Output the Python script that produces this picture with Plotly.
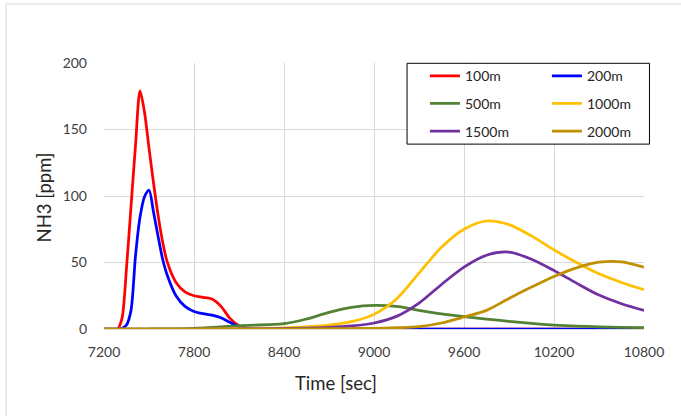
import plotly.graph_objects as go

# Early-arriving series (100 m, 200 m) sampled finely around the peak
t_near = [7200, 7290, 7320, 7350, 7380, 7410, 7440, 7470, 7500, 7530, 7560, 7590,
          7620, 7680, 7740, 7800, 7860, 7920, 7980, 8040, 8100, 8160, 8220, 8400,
          9000, 9600, 10200, 10800]
nh3_100m = [0, 0, 8, 46, 92, 138, 179, 163, 136, 110, 86, 66,
            51, 35, 28, 25, 23.8, 22.5, 17, 8, 2.5, 0.3, 0, 0,
            0, 0, 0, 0]
nh3_200m = [0, 0, 0.5, 3, 14, 55, 84, 99.5, 104.5, 88, 70, 53,
            41, 25, 17, 13.2, 11.5, 10.5, 8.5, 5, 2, 0.3, 0, 0,
            0, 0, 0, 0]

# Far-field series share a coarser time grid
t_far = [7200, 7500, 7800, 8100, 8400, 8550, 8700, 8850, 9000, 9150, 9300, 9450,
         9600, 9750, 9900, 10050, 10200, 10350, 10500, 10650, 10800]
nh3_500m = [0, 0, 0.5, 2.5, 4, 7.5, 12.5, 16.3, 17.8, 17, 14, 11.3,
            9.3, 7.5, 5.8, 4.2, 3, 2.2, 1.6, 1.2, 1.0]
nh3_1000m = [0, 0, 0, 0.2, 0.8, 1.6, 2.9, 5.5, 11, 22.5, 42, 61.5,
             75, 81.2, 78.5, 70, 59.5, 50, 41.5, 35, 29.5]
nh3_1500m = [0, 0, 0, 0, 0.3, 0.6, 1.2, 2.3, 4.5, 9.5, 19.5, 33.5,
             46.5, 55.5, 57.8, 52.5, 44, 34.5, 25.5, 19, 14]
nh3_2000m = [0, 0, 0, 0, 0, 0.1, 0.2, 0.3, 0.5, 1, 1.8, 4.5,
             9, 14, 23, 31.5, 39.5, 46, 50.2, 50.5, 46.5]

# (name, time, values, colour, legend row)
series = [
    ("100m", t_near, nh3_100m, "#FF0000", "legend"),
    ("200m", t_near, nh3_200m, "#0000FF", "legend"),
    ("500m", t_far, nh3_500m, "#548235", "legend2"),
    ("1000m", t_far, nh3_1000m, "#FFC000", "legend2"),
    ("1500m", t_far, nh3_1500m, "#7030A0", "legend3"),
    ("2000m", t_far, nh3_2000m, "#BF9000", "legend3"),
]

x_ticks = [7200, 7800, 8400, 9000, 9600, 10200, 10800]
y_ticks = [0, 50, 100, 150, 200]

FONT = "Lato"
GRID = "#D9D9D9"

fig = go.Figure()
for name, t, v, color, leg in series:
    fig.add_trace(go.Scatter(
        x=t, y=v, mode="lines", line_shape="spline",
        line=dict(color=color, width=2.75, smoothing=0.8),
        name=name, legend=leg,
    ))


def legend_row(y):
    # one two-entry row of the boxed key
    return dict(
        orientation="h", x=0.5943, xanchor="left", y=y, yanchor="top",
        entrywidth=77, entrywidthmode="pixels",
        bgcolor="rgba(0,0,0,0)", borderwidth=0,
        font=dict(family=FONT, size=14, color="#262626"),
    )


fig.update_layout(
    width=681, height=416,
    margin=dict(l=104, r=33.5, t=63, b=87),
    paper_bgcolor="white", plot_bgcolor="white",
    font=dict(family=FONT, color="#404040"),
    showlegend=True,
    legend=legend_row(1.0105),
    legend2=legend_row(0.9073),
    legend3=legend_row(0.8023),
    xaxis=dict(
        range=[7200, 10800], tickvals=x_ticks, ticktext=[str(v) for v in x_ticks],
        showgrid=True, gridcolor=GRID, gridwidth=1, zeroline=False,
        showline=False, ticks="", ticklabelstandoff=13,
        tickfont=dict(family=FONT, size=14, color="#404040"),
    ),
    yaxis=dict(
        range=[0, 200], tickvals=y_ticks, ticktext=[str(v) for v in y_ticks],
        showgrid=True, gridcolor=GRID, gridwidth=1, zeroline=True,
        zerolinecolor=GRID, zerolinewidth=1,
        showline=False, ticks="", ticklabelstandoff=16,
        tickfont=dict(family=FONT, size=14, color="#404040"),
    ),
    annotations=[
        dict(text="Time [sec]", xref="paper", yref="paper", x=0.4305, y=-0.2014,
             xanchor="center", yanchor="middle", showarrow=False,
             font=dict(family=FONT, size=18.5, color="#262626")),
        dict(text="NH3 [ppm]", xref="paper", yref="paper", x=-0.1104, y=0.496,
             xanchor="center", yanchor="middle", textangle=-90, showarrow=False,
             font=dict(family=FONT, size=18.5, color="#262626")),
    ],
    shapes=[
        # chart-area frame
        dict(type="rect", xref="paper", yref="paper",
             x0=-0.1812, x1=1.10, y0=-0.40, y1=1.222,
             line=dict(color=GRID, width=1), fillcolor="rgba(0,0,0,0)", layer="below"),
        # legend box
        dict(type="rect", xref="paper", yref="paper",
             x0=0.5612, x1=1.0101, y0=0.695, y1=0.9989,
             line=dict(color="black", width=1), fillcolor="white", layer="above"),
    ],
)

fig.write_html("out.html")
